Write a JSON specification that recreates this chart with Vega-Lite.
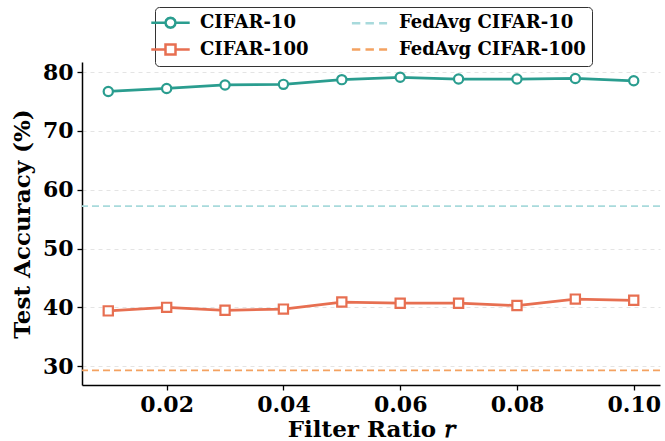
{
  "$schema": "https://vega.github.io/schema/vega-lite/v6.json",
  "width": 578,
  "height": 323,
  "autosize": {"type": "none"},
  "padding": {"left": 82, "top": 62, "right": 5, "bottom": 56},
  "background": "white",
  "config": {
    "view": {"stroke": null},
    "font": "DejaVu Serif",
    "axis": {
      "labelFont": "DejaVu Serif", "labelFontWeight": "bold", "labelFontSize": 22, "labelColor": "black",
      "titleFont": "DejaVu Serif", "titleFontWeight": "bold", "titleFontSize": 23, "titleColor": "black",
      "domainColor": "black", "domainWidth": 1.5, "tickColor": "black", "tickWidth": 1.3, "tickSize": 5
    }
  },
  "datasets": {
    "acc": [
      {"r": 0.01, "acc": 76.7, "series": "CIFAR-10"},
      {"r": 0.02, "acc": 77.2, "series": "CIFAR-10"},
      {"r": 0.03, "acc": 77.8, "series": "CIFAR-10"},
      {"r": 0.04, "acc": 77.9, "series": "CIFAR-10"},
      {"r": 0.05, "acc": 78.7, "series": "CIFAR-10"},
      {"r": 0.06, "acc": 79.1, "series": "CIFAR-10"},
      {"r": 0.07, "acc": 78.8, "series": "CIFAR-10"},
      {"r": 0.08, "acc": 78.8, "series": "CIFAR-10"},
      {"r": 0.09, "acc": 78.9, "series": "CIFAR-10"},
      {"r": 0.10, "acc": 78.5, "series": "CIFAR-10"},
      {"r": 0.01, "acc": 39.4, "series": "CIFAR-100"},
      {"r": 0.02, "acc": 40.0, "series": "CIFAR-100"},
      {"r": 0.03, "acc": 39.5, "series": "CIFAR-100"},
      {"r": 0.04, "acc": 39.7, "series": "CIFAR-100"},
      {"r": 0.05, "acc": 40.9, "series": "CIFAR-100"},
      {"r": 0.06, "acc": 40.7, "series": "CIFAR-100"},
      {"r": 0.07, "acc": 40.7, "series": "CIFAR-100"},
      {"r": 0.08, "acc": 40.3, "series": "CIFAR-100"},
      {"r": 0.09, "acc": 41.4, "series": "CIFAR-100"},
      {"r": 0.10, "acc": 41.2, "series": "CIFAR-100"}
    ],
    "fedavg": [
      {"series": "FedAvg CIFAR-10", "acc": 57.2},
      {"series": "FedAvg CIFAR-100", "acc": 29.3}
    ]
  },
  "encoding": {
    "color": {
      "field": "series", "type": "nominal",
      "scale": {
        "domain": ["CIFAR-10", "CIFAR-100", "FedAvg CIFAR-10", "FedAvg CIFAR-100"],
        "range": ["#2a9d8f", "#e76f51", "#a8dadc", "#f4a261"]
      },
      "legend": {
        "title": null, "orient": "none", "legendX": 73, "legendY": -55,
        "values": ["CIFAR-10", "CIFAR-100", "FedAvg CIFAR-10", "FedAvg CIFAR-100"],
        "columns": 2, "columnPadding": 37, "rowPadding": 6,
        "labelFont": "DejaVu Serif", "labelFontWeight": "bold", "labelFontSize": 18, "labelColor": "black", "labelLimit": 300,
        "labelOffset": 20, "symbolSize": 256, "symbolStrokeWidth": 2.5,
        "strokeColor": "#333333", "fillColor": "white", "cornerRadius": 4, "padding": 6,
        "encode": {
          "symbols": {
            "update": {
              "shape": {"signal": "datum.value == 'CIFAR-10' ? 'M-2.4,0L-0.625,0M0.625,0L2.4,0M0.625,0L0.541,0.3125L0.3125,0.541L0,0.625L-0.3125,0.541L-0.541,0.3125L-0.625,0L-0.541,-0.3125L-0.3125,-0.541L0,-0.625L0.3125,-0.541L0.541,-0.3125Z' : datum.value == 'CIFAR-100' ? 'M-2.4,0L-0.625,0M0.625,0L2.4,0M-0.625,-0.625L0.625,-0.625L0.625,0.625L-0.625,0.625Z' : 'M-2.2,0L-1.15,0M-0.5,0L0.55,0M1.2,0L2.2,0'"},
              "fill": {"value": "white"}
            }
          }
        }
      }
    }
  },
  "layer": [
    {
      "data": {"name": "fedavg"},
      "mark": {"type": "rule", "strokeDash": [7, 4], "strokeWidth": 1.8},
      "encoding": {
        "y": {"field": "acc", "type": "quantitative", "scale": {"domain": [26.8, 81.7], "nice": false, "zero": false}}
      }
    },
    {
      "data": {"name": "acc"},
      "mark": {"type": "line", "strokeWidth": 2.8},
      "encoding": {
        "x": {"field": "r", "type": "quantitative",
          "scale": {"domain": [0.0055, 0.1045], "nice": false, "zero": false},
          "axis": {"values": [0.02, 0.04, 0.06, 0.08, 0.10], "format": ".2f", "grid": false, "title": "Filter Ratio 𝑟", "titlePadding": 3, "labelPadding": 4}},
        "y": {"field": "acc", "type": "quantitative",
          "scale": {"domain": [26.8, 81.7], "nice": false, "zero": false},
          "axis": {"values": [30, 40, 50, 60, 70, 80], "grid": true, "gridDash": [4, 4], "gridColor": "#dddddd", "gridWidth": 0.8, "title": "Test Accuracy (%)", "titlePadding": 8, "labelPadding": 4}}
      }
    },
    {
      "data": {"name": "acc"},
      "mark": {"type": "point", "filled": false, "fill": "white", "fillOpacity": 1, "strokeWidth": 2.2, "opacity": 1},
      "encoding": {
        "x": {"field": "r", "type": "quantitative"},
        "y": {"field": "acc", "type": "quantitative"},
        "shape": {"field": "series", "type": "nominal", "scale": {"domain": ["CIFAR-10", "CIFAR-100"], "range": ["circle", "square"]}, "legend": null},
        "size": {"value": 85}
      }
    }
  ]
}
